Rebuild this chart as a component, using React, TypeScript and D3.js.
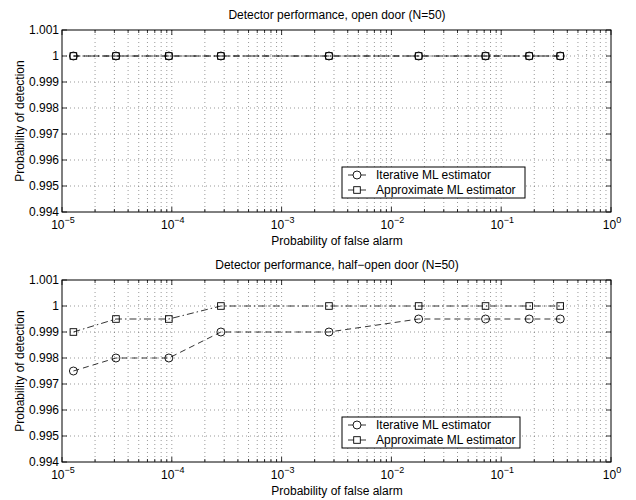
import React, { useEffect, useRef } from 'react';
import * as d3 from 'd3';

// false alarm probabilities (shared by every curve)
const pfa = [1.27e-5, 3.1e-5, 9.4e-5, 2.8e-4, 2.7e-3, 1.77e-2, 7.2e-2, 0.18, 0.345];

// open door
const openIterative = [1, 1, 1, 1, 1, 1, 1, 1, 1];
const openApprox = [1, 1, 1, 1, 1, 1, 1, 1, 1];

// half-open door
const halfIterative = [0.9975, 0.998, 0.998, 0.999, 0.999, 0.9995, 0.9995, 0.9995, 0.9995];
const halfApprox = [0.999, 0.9995, 0.9995, 1, 1, 1, 1, 1, 1];

const yTicks = [0.994, 0.995, 0.996, 0.997, 0.998, 0.999, 1, 1.001];
const yTickLabels = ['0.994', '0.995', '0.996', '0.997', '0.998', '0.999', '1', '1.001'];
const xExponents = [-5, -4, -3, -2, -1, 0];
const legendLabels = ['Iterative ML estimator', 'Approximate ML estimator'];
const titles = [
    'Detector performance, open door (N=50)',
    'Detector performance, half\u2212open door (N=50)'
];

const FONT = 'Liberation Sans, Arial, Helvetica, sans-serif';
const FS = 12;

export default function App() {
    const ref = useRef<SVGSVGElement>(null);

    useEffect(() => {
        const svg = d3.select(ref.current);
        svg.selectAll('*').remove();

        const left = 62, right = 611, h = 182;
        const x = d3.scaleLog().domain([1e-5, 1]).range([left, right]);

        const drawPanel = (top: number, title: string, iter: number[], approx: number[], legendW: number) => {
            const y = d3.scaleLinear().domain([0.994, 1.001]).range([top + h, top]);
            const g = svg.append('g');

            g.append('rect')
                .attr('x', left).attr('y', top)
                .attr('width', right - left).attr('height', h)
                .attr('fill', '#fff');

            // grid lines
            const minors: number[] = [];
            for (let e = -5; e < 0; e++) {
                for (let m = 2; m <= 9; m++) minors.push(m * Math.pow(10, e));
            }
            const gridX = minors.concat(xExponents.slice(1, -1).map(e => Math.pow(10, e)));
            g.selectAll('.gx').data(gridX).enter().append('line')
                .attr('x1', d => x(d)).attr('x2', d => x(d))
                .attr('y1', top).attr('y2', top + h)
                .attr('stroke', '#555').attr('stroke-width', 0.6)
                .attr('stroke-dasharray', '1,3');
            g.selectAll('.gy').data(yTicks.slice(1, -1)).enter().append('line')
                .attr('x1', left).attr('x2', right)
                .attr('y1', d => y(d)).attr('y2', d => y(d))
                .attr('stroke', '#555').attr('stroke-width', 0.6)
                .attr('stroke-dasharray', '1,3');

            // ticks (inside, on all four sides)
            const majorX = xExponents.map(e => Math.pow(10, e));
            const tick = (x1: number, y1: number, x2: number, y2: number) =>
                g.append('line').attr('x1', x1).attr('y1', y1).attr('x2', x2).attr('y2', y2)
                    .attr('stroke', '#000').attr('stroke-width', 0.8);
            majorX.forEach(d => { tick(x(d), top + h, x(d), top + h - 5); tick(x(d), top, x(d), top + 5); });
            minors.forEach(d => { tick(x(d), top + h, x(d), top + h - 3); tick(x(d), top, x(d), top + 3); });
            yTicks.forEach(d => { tick(left, y(d), left + 5, y(d)); tick(right, y(d), right - 5, y(d)); });

            g.append('rect')
                .attr('x', left).attr('y', top)
                .attr('width', right - left).attr('height', h)
                .attr('fill', 'none').attr('stroke', '#000').attr('stroke-width', 1);

            // tick labels
            g.selectAll('.yl').data(yTicks).enter().append('text')
                .attr('x', left - 3).attr('y', d => y(d) + 4)
                .attr('text-anchor', 'end')
                .attr('font-family', FONT).attr('font-size', FS)
                .text((d, i) => yTickLabels[i]);
            const xl = g.selectAll('.xl').data(xExponents).enter().append('text')
                .attr('x', e => x(Math.pow(10, e)) + 1).attr('y', top + h + 17)
                .attr('text-anchor', 'middle')
                .attr('font-family', FONT).attr('font-size', FS);
            xl.append('tspan').text('10');
            xl.append('tspan').attr('dy', -6).attr('font-size', 9)
                .text(e => e === 0 ? '0' : '\u2212' + Math.abs(e));

            // titles
            g.append('text').attr('x', 337).attr('y', top - 11)
                .attr('text-anchor', 'middle').attr('font-family', FONT).attr('font-size', FS)
                .text(title);
            g.append('text').attr('x', 337).attr('y', top + h + 33)
                .attr('text-anchor', 'middle').attr('font-family', FONT).attr('font-size', FS)
                .text('Probability of false alarm');
            g.append('text')
                .attr('transform', `translate(24,${top + h / 2}) rotate(-90)`)
                .attr('text-anchor', 'middle').attr('font-family', FONT).attr('font-size', FS)
                .text('Probability of detection');

            // curves
            const line = d3.line<number>().x((d, i) => x(pfa[i])).y(d => y(d));
            g.append('path').datum(iter).attr('d', line)
                .attr('fill', 'none').attr('stroke', '#000').attr('stroke-width', 0.8)
                .attr('stroke-dasharray', '6,4');
            g.append('path').datum(approx).attr('d', line)
                .attr('fill', 'none').attr('stroke', '#000').attr('stroke-width', 0.8)
                .attr('stroke-dasharray', '7,3,1.5,3');
            g.selectAll('.mc').data(iter).enter().append('circle')
                .attr('cx', (d, i) => x(pfa[i])).attr('cy', d => y(d)).attr('r', 4)
                .attr('fill', 'none').attr('stroke', '#000').attr('stroke-width', 0.9);
            g.selectAll('.ms').data(approx).enter().append('rect')
                .attr('x', (d, i) => x(pfa[i]) - 3.3).attr('y', d => y(d) - 3.3)
                .attr('width', 6.6).attr('height', 6.6)
                .attr('fill', 'none').attr('stroke', '#000').attr('stroke-width', 0.9);

            // legend
            const lx = 342, ly = top + 137;
            const lg = g.append('g');
            lg.append('rect').attr('x', lx).attr('y', ly).attr('width', legendW).attr('height', 31)
                .attr('fill', '#fff').attr('stroke', '#000').attr('stroke-width', 1);
            legendLabels.forEach((label, i) => {
                const cy = ly + 8 + i * 15;
                lg.append('line').attr('x1', lx + 6).attr('x2', lx + 24).attr('y1', cy).attr('y2', cy)
                    .attr('stroke', '#000').attr('stroke-width', 0.8);
                if (i === 0) {
                    lg.append('circle').attr('cx', lx + 15).attr('cy', cy).attr('r', 4)
                        .attr('fill', '#fff').attr('stroke', '#000').attr('stroke-width', 0.9);
                } else {
                    lg.append('rect').attr('x', lx + 11.7).attr('y', cy - 3.3).attr('width', 6.6).attr('height', 6.6)
                        .attr('fill', '#fff').attr('stroke', '#000').attr('stroke-width', 0.9);
                }
                lg.append('text').attr('x', lx + 34).attr('y', cy + 4)
                    .attr('font-family', FONT).attr('font-size', FS)
                    .text(label);
            });
        };

        drawPanel(30, titles[0], openIterative, openApprox, 183);
        drawPanel(280, titles[1], halfIterative, halfApprox, 178);
    }, []);

    return (
        <div style={{ position: 'absolute', left: 0, top: 0 }}>
            <svg ref={ref} width={636} height={500} style={{ display: 'block', background: '#fff' }} />
        </div>
    );
}
